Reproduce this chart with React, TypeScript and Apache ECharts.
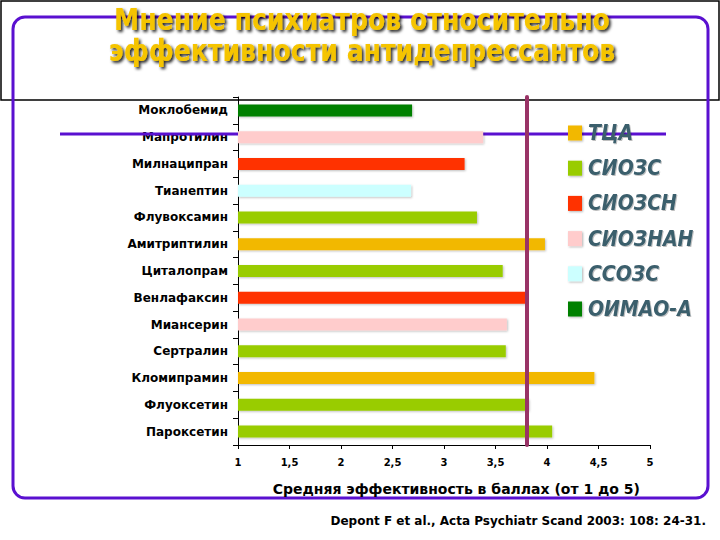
import React, { useEffect, useRef } from "react";
import * as echarts from "echarts";

const categories = [
  "Моклобемид",
  "Мапротилин",
  "Милнаципран",
  "Тианептин",
  "Флувоксамин",
  "Амитриптилин",
  "Циталопрам",
  "Венлафаксин",
  "Миансерин",
  "Сертралин",
  "Кломипрамин",
  "Флуоксетин",
  "Пароксетин",
];
const scores = [2.69, 3.38, 3.2, 2.68, 3.32, 3.98, 3.57, 3.79, 3.61, 3.6, 4.46, 3.82, 4.05];
const drugClass = [
  "ОИМАО-А",
  "СИОЗНАН",
  "СИОЗСН",
  "ССОЗС",
  "СИОЗС",
  "ТЦА",
  "СИОЗС",
  "СИОЗСН",
  "СИОЗНАН",
  "СИОЗС",
  "ТЦА",
  "СИОЗС",
  "СИОЗС",
];
const classes = ["ТЦА", "СИОЗС", "СИОЗСН", "СИОЗНАН", "ССОЗС", "ОИМАО-А"];
const classColors = ["#F2B800", "#99CC00", "#FF3300", "#FFCCCC", "#CCFFFF", "#008000"];
const meanScore = 3.8;
const xMin = 1;
const xMax = 5;
const xStep = 0.5;

const titleLines = ["Мнение психиатров относительно", "эффективности антидепрессантов"];
const axisTitle = "Средняя эффективность в баллах (от 1 до 5)";
const credit = "Depont F et al., Acta Psychiatr Scand 2003: 108: 24-31.";

export default function App() {
  const ref = useRef<HTMLDivElement>(null);
  useEffect(() => {
    if (!ref.current) return;
    const chart = echarts.init(ref.current, null, { renderer: "svg" });
    const series: any[] = classes.map((cls, ci) => ({
      name: cls,
      type: "bar",
      barWidth: 12,
      barGap: "-100%",
      z: 3,
      itemStyle: {
        color: classColors[ci],
        shadowBlur: 2,
        shadowColor: "rgba(0,0,0,0.25)",
        shadowOffsetX: 1,
        shadowOffsetY: 1,
      },
      data: scores.map((v, i) => (drugClass[i] === cls ? v : null)),
    }));
    series[0].markLine = {
      silent: true,
      symbol: "none",
      label: { show: false },
      lineStyle: { color: "#993366", width: 4, type: "solid", cap: "round" },
      data: [{ xAxis: meanScore }],
      z: 5,
    };
    const font = "DejaVu Sans";
    chart.setOption({
      animation: false,
      backgroundColor: "#ffffff",
      grid: { left: 238, right: 70, top: 97, bottom: 95, containLabel: false },
      legend: {
        data: classes,
        orient: "vertical",
        left: 563,
        top: 116,
        itemWidth: 14,
        itemHeight: 15,
        itemGap: 11.2,
        icon: "rect",
        selectedMode: false,
        itemStyle: { shadowBlur: 2, shadowColor: "rgba(0,0,0,0.3)", shadowOffsetX: 1, shadowOffsetY: 1 },
        textStyle: {
          fontFamily: "DejaVu Sans Condensed",
          fontStyle: "italic",
          fontWeight: "bold",
          fontSize: 21,
          lineHeight: 24,
          color: "#3B5E6C",
          textShadowColor: "rgba(0,0,0,0.25)",
          textShadowBlur: 1,
          textShadowOffsetX: 1,
          textShadowOffsetY: 1,
          padding: [0, 0, 0, 1],
        },
      },
      xAxis: {
        type: "value",
        min: xMin,
        max: xMax,
        interval: xStep,
        splitLine: { show: false },
        axisLine: { show: true, lineStyle: { color: "#000", width: 1 } },
        axisTick: { show: true, length: 4, lineStyle: { color: "#000" } },
        axisLabel: {
          color: "#000",
          fontFamily: font,
          fontWeight: "bold",
          fontSize: 10,
          margin: 12,
          formatter: (v: number) => String(v).replace(".", ","),
        },
      },
      yAxis: {
        type: "category",
        inverse: true,
        data: categories,
        axisLine: { show: true, lineStyle: { color: "#000", width: 1 } },
        axisTick: { show: true, length: 5, lineStyle: { color: "#000" } },
        axisLabel: {
          color: "#000",
          fontFamily: font,
          fontWeight: "bold",
          fontSize: 12,
          margin: 10,
        },
      },
      series,
      graphic: [
        {
          type: "rect",
          z: 0,
          shape: { x: 1, y: 1, width: 718, height: 99 },
          style: { fill: "none", stroke: "#000", lineWidth: 1.5 },
        },
        {
          type: "rect",
          z: 1,
          shape: { x: 13, y: 17, width: 695, height: 481, r: 12 },
          style: { fill: "none", stroke: "#5A10D0", lineWidth: 3 },
        },
        {
          type: "line",
          z: 1,
          shape: { x1: 60, y1: 134, x2: 666, y2: 134 },
          style: { stroke: "#5A10D0", lineWidth: 3 },
        },
        ...titleLines.map((t, i) => ({
          type: "text",
          z: 100,
          x: 362,
          y: 20 + i * 31,
          scaleY: 1.1,
          style: {
            text: t,
            fill: "#F5C400",
            font: "bold 28px 'DejaVu Sans Condensed'",
            align: "center",
            verticalAlign: "middle",
            textShadowColor: "rgba(0,0,0,0.85)",
            textShadowBlur: 3,
            textShadowOffsetX: 2,
            textShadowOffsetY: 2,
          },
        })),
        {
          type: "text",
          z: 100,
          x: 640,
          y: 489,
          style: {
            text: axisTitle,
            fill: "#000",
            font: "bold 14px 'DejaVu Sans'",
            align: "right",
            verticalAlign: "middle",
          },
        },
        {
          type: "text",
          z: 100,
          x: 706,
          y: 521,
          style: {
            text: credit,
            fill: "#000",
            font: "bold 12px 'DejaVu Sans'",
            align: "right",
            verticalAlign: "middle",
          },
        },
      ],
    });
    return () => chart.dispose();
  }, []);
  return (
    <div
      ref={ref}
      style={{ position: "absolute", left: 0, top: 0, width: 720, height: 540 }}
    />
  );
}
